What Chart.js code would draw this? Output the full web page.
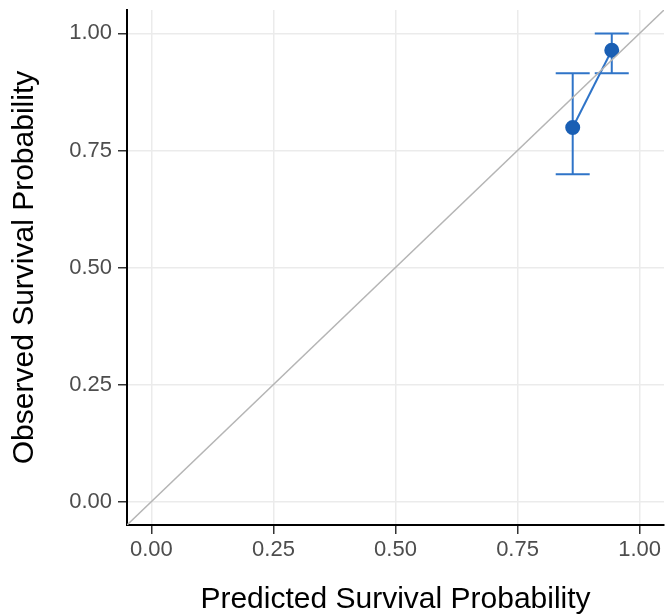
<!DOCTYPE html>
<html>
<head>
<meta charset="utf-8">
<script src="https://cdn.jsdelivr.net/npm/chart.js@4.4.1/dist/chart.umd.min.js"></script>
<style>
  html, body { margin: 0; padding: 0; background: #fff; overflow: hidden; }
  #wrap { width: 667px; height: 615px; }
</style>
</head>
<body>
<div id="wrap"><canvas id="calib"></canvas></div>
<script>
// calibration points (predicted vs observed) with error bar limits
const predicted = [0.863, 0.943];
const observed = [0.799, 0.964];
const lowerCI = [0.699, 0.915];
const upperCI = [0.915, 1.0];

// reference line y = x
const refLine = [-0.05, 1.05];

const tickValues = [0, 0.25, 0.5, 0.75, 1];

const FONT = "'Liberation Sans', Arial, Helvetica, sans-serif";
const BLUE = '#1a5fb4';
const LINE_BLUE = '#2f74c8';

// draws vertical error bars with caps under the points
const errorBars = {
  id: 'errorBars',
  beforeDatasetDraw(chart, args) {
    if (args.index !== 1) return;
    const { ctx, scales: { x, y } } = chart;
    ctx.save();
    ctx.strokeStyle = LINE_BLUE;
    ctx.lineWidth = 2;
    predicted.forEach((p, i) => {
      const px = x.getPixelForValue(p);
      const top = y.getPixelForValue(upperCI[i]);
      const bot = y.getPixelForValue(lowerCI[i]);
      ctx.beginPath();
      ctx.moveTo(px, top);
      ctx.lineTo(px, bot);
      ctx.moveTo(px - 17, top);
      ctx.lineTo(px + 17, top);
      ctx.moveTo(px - 17, bot);
      ctx.lineTo(px + 17, bot);
      ctx.stroke();
    });
    ctx.restore();
  }
};

const setTicks = (scale) => {
  scale.ticks = tickValues.map((v) => ({ value: v }));
};

const noPad = (s) => {
  s.paddingLeft = 0;
  s.paddingRight = 0;
  s.paddingTop = 0;
  s.paddingBottom = 0;
};

new Chart(document.getElementById('calib'), {
  type: 'scatter',
  data: {
    datasets: [
      {
        type: 'line',
        data: refLine.map((v) => ({ x: v, y: v })),
        borderColor: '#b5b5b5',
        borderWidth: 1.5,
        pointRadius: 0,
        fill: false,
      },
      {
        data: predicted.map((p, i) => ({ x: p, y: observed[i] })),
        showLine: true,
        borderColor: LINE_BLUE,
        borderWidth: 2,
        backgroundColor: BLUE,
        pointBackgroundColor: BLUE,
        pointBorderColor: BLUE,
        pointRadius: 6.5,
      },
    ],
  },
  options: {
    responsive: true,
    maintainAspectRatio: false,
    animation: false,
    layout: { autoPadding: false, padding: { top: 10, right: 3, left: 0, bottom: 0 } },
    plugins: {
      legend: { display: false },
      tooltip: { enabled: false },
    },
    scales: {
      x: {
        type: 'linear',
        min: -0.05,
        max: 1.05,
        afterBuildTicks: setTicks,
        afterFit: (s) => { s.height = 90; noPad(s); },
        grid: { color: '#ebebeb', lineWidth: 1.5, tickColor: '#333', tickLength: 9 },
        border: { color: '#000', width: 2 },
        ticks: {
          padding: 3,
          color: '#4d4d4d',
          font: { family: FONT, size: 22 },
          callback: (v) => v.toFixed(2),
        },
        title: {
          display: true,
          text: 'Predicted Survival Probability',
          color: '#000',
          font: { family: FONT, size: 30, lineHeight: 1 },
          padding: { top: 0, bottom: 0 },
        },
      },
      y: {
        type: 'linear',
        min: -0.05,
        max: 1.05,
        afterBuildTicks: setTicks,
        afterFit: (s) => { s.width = 127; noPad(s); },
        grid: { color: '#ebebeb', lineWidth: 1.5, tickColor: '#333', tickLength: 9 },
        border: { color: '#000', width: 2 },
        ticks: {
          padding: 6,
          color: '#4d4d4d',
          font: { family: FONT, size: 22 },
          callback: (v) => v.toFixed(2),
        },
        title: {
          display: true,
          text: 'Observed Survival Probability',
          color: '#000',
          font: { family: FONT, size: 30, lineHeight: 1 },
          padding: { top: 10, bottom: 0 },
        },
      },
    },
  },
  plugins: [errorBars],
});
</script>
</body>
</html>
